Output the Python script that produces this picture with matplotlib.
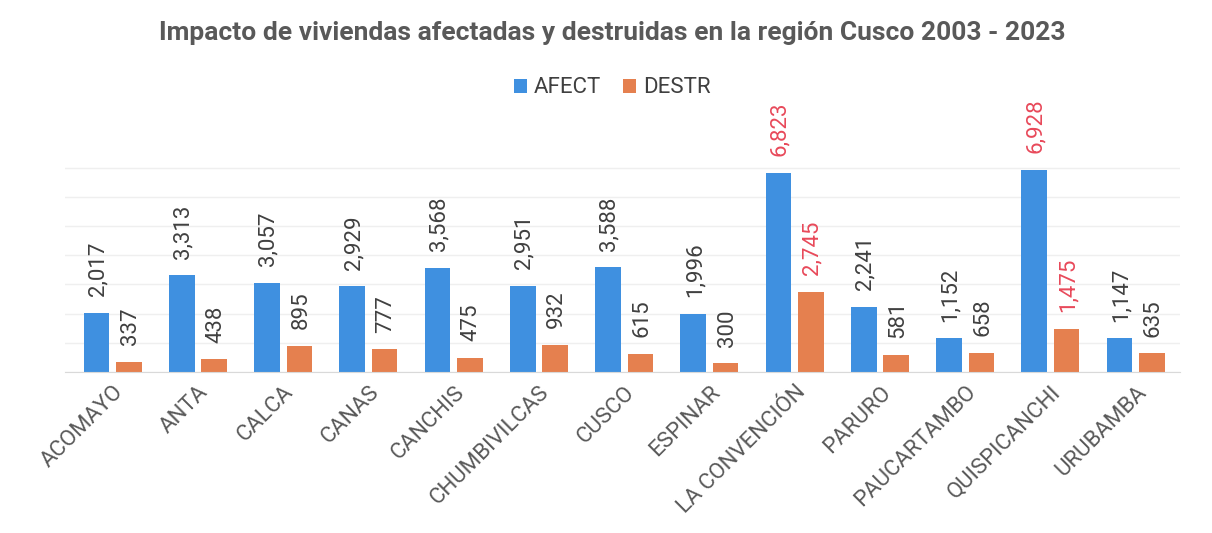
import matplotlib
matplotlib.use("Agg")
import matplotlib.pyplot as plt
import numpy as np

categories = ["ACOMAYO", "ANTA", "CALCA", "CANAS", "CANCHIS", "CHUMBIVILCAS", "CUSCO",
              "ESPINAR", "LA CONVENCIÓN", "PARURO", "PAUCARTAMBO", "QUISPICANCHI", "URUBAMBA"]
afect = [2017, 3313, 3057, 2929, 3568, 2951, 3588, 1996, 6823, 2241, 1152, 6928, 1147]
destr = [337, 438, 895, 777, 475, 932, 615, 300, 2745, 581, 658, 1475, 635]
highlight = ["LA CONVENCIÓN", "QUISPICANCHI"]

plt.rcParams['font.family'] = ['Roboto', 'DejaVu Sans']

BLUE = "#3f90e0"
ORANGE = "#e5804f"
TXT = "#404040"
RED = "#e8495a"

fig = plt.figure(figsize=(12.12, 5.33), dpi=100)
ax = fig.add_axes([65/1212, 161/533, 1115/1212, 222/533])

x = np.arange(len(categories))
off = 0.19
w = 0.30
b1 = ax.bar(x - off, afect, w, color=BLUE, label="AFECT", zorder=2)
b2 = ax.bar(x + off, destr, w, color=ORANGE, label="DESTR", zorder=2)

for bars, vals in ((b1, afect), (b2, destr)):
    for rect, v, cat in zip(bars, vals, categories):
        col = RED if cat in highlight else TXT
        ax.annotate(f"{v:,}", (rect.get_x() + rect.get_width()/2, rect.get_height()),
                    xytext=(1, 12), textcoords="offset points", rotation=90,
                    ha="center", va="bottom", fontsize=16, color=col)

ax.set_xlim(-0.56, len(categories) - 0.48)
ax.set_ylim(0, 7600)
ax.set_yticks(np.arange(0, 7001, 1000))
ax.yaxis.grid(True, color="#efefef", linewidth=1, zorder=0)
ax.set_axisbelow(True)
ax.tick_params(axis="y", left=False, labelleft=False)
ax.tick_params(axis="x", length=0, pad=7)
for s in ["top", "right", "left"]:
    ax.spines[s].set_visible(False)
ax.spines["bottom"].set_color("#d9d9d9")

ax.set_xticks(x)
ax.set_xticklabels(categories, rotation=45, ha="right", va="top", rotation_mode="anchor",
                   fontsize=16, color="#595959")

fig.text(0.505, 0.938, "Impacto de viviendas afectadas y destruidas en la región Cusco 2003 - 2023",
         ha="center", va="center", fontsize=19, fontweight="bold", color="#595959")
fig.legend(handles=[b1, b2], loc="center", bbox_to_anchor=(0.505, 0.835), ncol=2,
           frameon=False, fontsize=16, handlelength=0.6, handleheight=0.6,
           handletextpad=0.3, columnspacing=1.0, labelcolor="#404040")

fig.savefig("out.png", dpi=100, facecolor="white")
